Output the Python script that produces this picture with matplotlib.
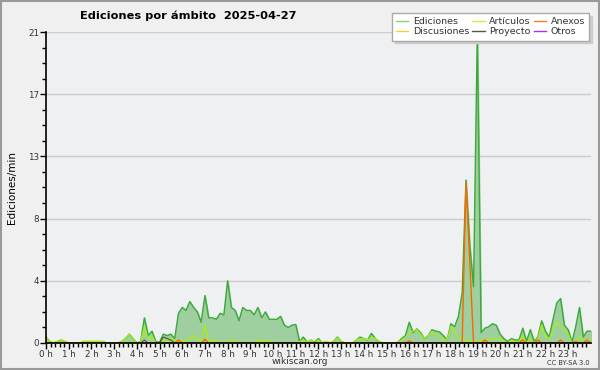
# Ediciones por ámbito - wikiscan
import numpy as np
import matplotlib.pyplot as plt
from matplotlib.patches import Rectangle

# Datos cada 10 minutos (00:00 a 24:00)
horas = np.arange(145) / 6.0

ediciones = [
    0.4, 0.1, 0.0, 0.1, 0.2, 0.1,
    0.0, 0.0, 0.0, 0.0, 0.1, 0.1,
    0.1, 0.1, 0.1, 0.1, 0.0, 0.0,
    0.0, 0.0, 0.1, 0.3, 0.6, 0.3,
    0.0, 0.1, 1.7, 0.5, 0.8, 0.1,
    0.05, 0.6, 0.5, 0.6, 0.3, 2.0,
    2.4, 2.2, 2.8, 2.4, 2.1, 1.4,
    3.2, 1.7, 1.7, 1.6, 2.0, 1.9,
    4.2, 2.4, 2.2, 1.5, 2.4, 2.2,
    2.2, 1.9, 2.4, 1.7, 2.1, 1.6,
    1.6, 1.6, 1.8, 1.2, 1.05, 1.2,
    1.25, 0.1, 0.4, 0.05, 0.2, 0.05,
    0.3, 0.0, 0.1, 0.0, 0.1, 0.4,
    0.1, 0.0, 0.0, 0.0, 0.2, 0.4,
    0.3, 0.2, 0.65, 0.3, 0.1, 0.0,
    0.0, 0.0, 0.0, 0.05, 0.3, 0.5,
    1.4, 0.7, 0.95, 0.7, 0.3, 0.5,
    0.9, 0.8, 0.75, 0.5, 0.2, 1.3,
    1.1, 1.8, 3.4, 11.0, 6.6, 3.8,
    21.0, 0.7, 1.0, 1.1, 1.3, 1.2,
    0.6, 0.3, 0.1, 0.3, 0.2, 0.2,
    1.0, 0.1, 0.9, 0.1, 0.4, 1.5,
    0.8, 0.4, 1.6, 2.7, 3.0, 1.2,
    0.9, 0.05, 1.1, 2.4, 0.4, 0.8,
    0.8,
]

articulos = [
    0.4, 0.1, 0.0, 0.1, 0.2, 0.1,
    0.0, 0.0, 0.0, 0.0, 0.1, 0.1,
    0.1, 0.1, 0.1, 0.1, 0.0, 0.0,
    0.0, 0.0, 0.1, 0.3, 0.6, 0.3,
    0.0, 0.1, 1.1, 0.3, 0.5, 0.0,
    0.0, 0.2, 0.1, 0.3, 0.2, 0.1,
    0.2, 0.1, 0.3, 0.5, 0.2, 0.1,
    1.2, 0.1, 0.1, 0.2, 0.0, 0.0,
    0.0, 0.2, 0.1, 0.0, 0.0, 0.0,
    0.0, 0.0, 0.2, 0.1, 0.2, 0.1,
    0.0, 0.0, 0.0, 0.0, 0.0, 0.0,
    0.0, 0.1, 0.2, 0.05, 0.2, 0.0,
    0.2, 0.0, 0.1, 0.0, 0.1, 0.35,
    0.1, 0.0, 0.0, 0.0, 0.2, 0.3,
    0.3, 0.2, 0.4, 0.3, 0.1, 0.0,
    0.0, 0.0, 0.0, 0.05, 0.2, 0.4,
    0.7, 0.8, 0.9, 0.6, 0.3, 0.5,
    0.8, 0.6, 0.4, 0.3, 0.2, 1.1,
    0.7, 0.4, 0.2, 0.1, 0.2, 0.1,
    0.0, 0.2, 0.1, 0.3, 0.2, 0.3,
    0.3, 0.1, 0.0, 0.2, 0.1, 0.1,
    0.5, 0.0, 0.3, 0.0, 0.3, 1.2,
    0.4, 0.3, 0.9, 1.4, 1.2, 0.9,
    0.6, 0.0, 0.1, 0.5, 0.1, 0.2,
    0.3,
]

# Valores puntuales (el resto es cero)
anexos_picos = {35: 0.2, 42: 0.25, 96: 0.15, 111: 10.8, 112: 5.5,
                116: 0.2, 126: 0.2, 130: 0.2, 136: 0.2, 140: 0.1, 143: 0.2}
proyecto_picos = {26: 0.2, 31: 0.4, 32: 0.3, 33: 0.2}

anexos = np.zeros(145)
for i, v in anexos_picos.items():
    anexos[i] = v
proyecto = np.zeros(145)
for i, v in proyecto_picos.items():
    proyecto[i] = v
discusiones = np.zeros(145)
otros = np.zeros(145)

etiquetas_horas = [f"{h} h" for h in range(24)]


def main():
    fig = plt.figure(figsize=(6, 3.7), dpi=100, facecolor='#f0f0f0')
    ax = fig.add_axes([0.0767, 0.073, 0.908, 0.8405])
    ax.set_facecolor('#eef0f2')

    # Área total de ediciones
    ax.fill_between(horas, ediciones, color='#9fcf9f', zorder=2)
    ax.plot(horas, ediciones, color='#3aaa3a', lw=1.0, zorder=3)
    ax.plot(horas, articulos, color='#aaee11', lw=0.9, zorder=4)
    ax.plot(horas, proyecto, color='#444444', lw=0.7, zorder=4)
    ax.plot(horas, anexos, color='#ff6600', lw=1, zorder=5)

    # Ejes
    ax.set_xlim(0, 24)
    ax.set_ylim(0, 21)
    mayores = np.linspace(0, 21, 6)
    ax.set_yticks(mayores)
    ax.set_yticklabels([f"{v:.0f}" for v in mayores])
    ax.set_yticks(np.arange(0, 21.01, 1.05), minor=True)
    ax.set_xticks(range(24))
    ax.set_xticklabels(etiquetas_horas)
    ax.set_xticks(np.arange(0, 24, 0.2), minor=True)
    ax.tick_params(axis='both', labelsize=6.3, length=4, width=1, pad=1,
                   labelcolor='#333333')
    ax.tick_params(axis='both', which='minor', length=3, width=1)
    ax.grid(axis='y', color='#cccccc', lw=1)
    ax.set_axisbelow(True)
    for lado in ['top', 'right']:
        ax.spines[lado].set_visible(False)
    for lado in ['left', 'bottom']:
        ax.spines[lado].set_linewidth(1.2)
        ax.spines[lado].set_zorder(6)
    ax.set_ylabel('Ediciones/min', fontsize=7.5, labelpad=8)

    # Título y textos
    fig.text(0.313, 0.958, 'Ediciones por ámbito  2025-04-27', fontsize=8.2,
             fontweight='bold', ha='center', va='center')
    fig.text(0.5, 0.022, 'wikiscan.org', fontsize=6.5, ha='center', va='center',
             color='#333333')
    fig.text(0.983, 0.02, 'CC BY-SA 3.0', fontsize=4.8, ha='right', va='center',
             color='#333333')

    # Leyenda
    h = [
        plt.Line2D([], [], color='#88cc88', lw=1),
        plt.Line2D([], [], color='#ffcc33', lw=1),
        plt.Line2D([], [], color='#ccee44', lw=1),
        plt.Line2D([], [], color='#555555', lw=1),
        plt.Line2D([], [], color='#ff7733', lw=1),
        plt.Line2D([], [], color='#9933ff', lw=1),
    ]
    nombres = ['Ediciones', 'Discusiones', 'Artículos', 'Proyecto', 'Anexos', 'Otros']
    leg = fig.legend(h, nombres, ncol=3, loc='upper right',
                     bbox_to_anchor=(0.99, 0.977), fontsize=6.8,
                     frameon=True, fancybox=False,
                     shadow={'color': '#cccccc', 'alpha': 1},
                     handlelength=1.3, handletextpad=0.5, columnspacing=0.3,
                     labelspacing=0.1, borderpad=0.45)
    leg.get_frame().set_edgecolor('#aaaaaa')
    leg.get_frame().set_facecolor('white')
    for t in leg.get_texts():
        t.set_color('#333333')

    # Borde de la figura
    fig.patches.append(Rectangle((0.001, 0.002), 0.997, 0.995, transform=fig.transFigure,
                                 fill=False, edgecolor='#999999', lw=1.5))

    fig.savefig('out.png', dpi=100, facecolor=fig.get_facecolor())


if __name__ == "__main__":
    main()
